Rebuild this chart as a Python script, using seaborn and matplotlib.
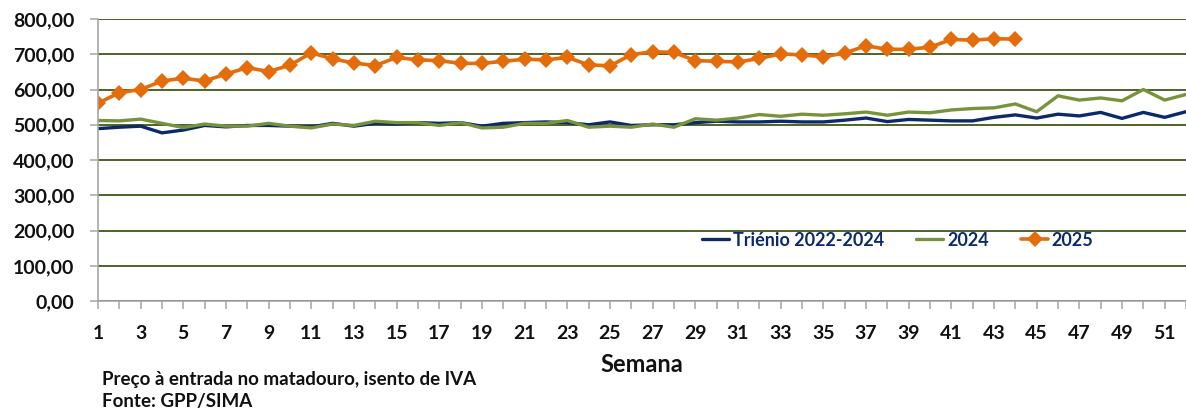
import matplotlib
matplotlib.use('Agg')
import matplotlib.pyplot as plt
from matplotlib.ticker import FuncFormatter
import seaborn as sns

# weekly prices (€/100kg)
semanas = list(range(1, 53))

trienio = [489, 493, 496, 477, 485, 498, 494, 498, 498, 496,
           494, 504, 496, 504, 502, 506, 504, 506, 496, 504,
           506, 508, 506, 500, 508, 498, 500, 500, 506, 510,
           508, 508, 510, 508, 508, 513, 519, 509, 515, 513,
           511, 511, 521, 528, 519, 530, 525, 535, 518, 535,
           521, 537]

ano_2024 = [512, 511, 516, 504, 492, 502, 496, 496, 504, 496,
            491, 502, 498, 510, 506, 506, 498, 506, 491, 493,
            504, 504, 512, 493, 496, 493, 502, 493, 517, 513,
            519, 529, 524, 530, 527, 531, 536, 527, 536, 534,
            542, 546, 548, 559, 537, 582, 570, 576, 568, 600,
            570, 586]

ano_2025 = [561, 591, 600, 624, 632, 624, 644, 662, 651, 669,
            704, 687, 675, 668, 691, 684, 682, 674, 674, 680,
            686, 684, 691, 670, 667, 699, 707, 705, 682, 680,
            678, 688, 701, 698, 693, 703, 724, 714, 714, 720,
            742, 740, 744, 743]

series_labels = ['Triénio 2022-2024', '2024', '2025']

navy = '#0C2A6A'
green = '#77933C'
orange = '#E46C0A'
grid_green = '#4F6228'
axis_grey = '#A6A6A6'

sns.set_style('white')
plt.rcParams['font.family'] = ['Lato', 'DejaVu Sans']
plt.rcParams['font.weight'] = 'bold'

fig = plt.figure(figsize=(11.86, 4.12), dpi=100)
ax = fig.add_axes([98 / 1186, 1 - 301 / 412, 1088 / 1186, 282 / 412])

sns.lineplot(x=semanas, y=trienio, color=navy, linewidth=2.4,
             label=series_labels[0], ax=ax)
sns.lineplot(x=semanas, y=ano_2024, color=green, linewidth=2.4,
             label=series_labels[1], ax=ax)
sns.lineplot(x=semanas[:len(ano_2025)], y=ano_2025, color=orange, linewidth=2.6,
             marker='D', markersize=8, markeredgewidth=0,
             label=series_labels[2], ax=ax)

ax.set_xlim(1, 51.9)
ax.set_ylim(0, 800)
ax.set_yticks(range(0, 801, 100))
ax.yaxis.set_major_formatter(FuncFormatter(lambda v, p: f'{v:.2f}'.replace('.', ',')))
ax.set_xticks(semanas)
ax.set_xticklabels([str(s) if s % 2 == 1 else '' for s in semanas])

ax.yaxis.grid(True, color=grid_green, linewidth=1.4)
ax.xaxis.grid(False)
ax.set_axisbelow(True)

for side in ['top', 'right']:
    ax.spines[side].set_visible(False)
for side in ['left', 'bottom']:
    ax.spines[side].set_color(axis_grey)
    ax.spines[side].set_linewidth(1.2)
    ax.spines[side].set_zorder(3)

ax.tick_params(axis='both', which='major', direction='out', length=6,
               width=1.1, color=axis_grey, labelsize=14, labelcolor='#111111')
ax.tick_params(axis='y', pad=11, left=True)
ax.tick_params(axis='x', pad=11, bottom=True)
for lab in ax.get_xticklabels() + ax.get_yticklabels():
    lab.set_fontweight('bold')

ax.set_xlabel('Semana', fontsize=17, fontweight='bold', color='#111111')
ax.xaxis.set_label_coords(0.5, -0.185)
ax.set_ylabel('')

leg = ax.legend(loc='center', bbox_to_anchor=(0.735, 0.216), ncol=3, frameon=False,
                handlelength=1.5, handletextpad=0.2, columnspacing=1.8,
                prop={'size': 13, 'weight': 'bold'})
for txt in leg.get_texts():
    txt.set_color(navy)

fig.text(102 / 1186, 1 - 380 / 412, 'Preço à entrada no matadouro, isento de IVA',
         fontsize=13.5, fontweight='bold', color='#111111', va='center')
fig.text(102 / 1186, 1 - 402 / 412, 'Fonte: GPP/SIMA',
         fontsize=13.5, fontweight='bold', color='#111111', va='center')

fig.savefig('out.png', dpi=100)
